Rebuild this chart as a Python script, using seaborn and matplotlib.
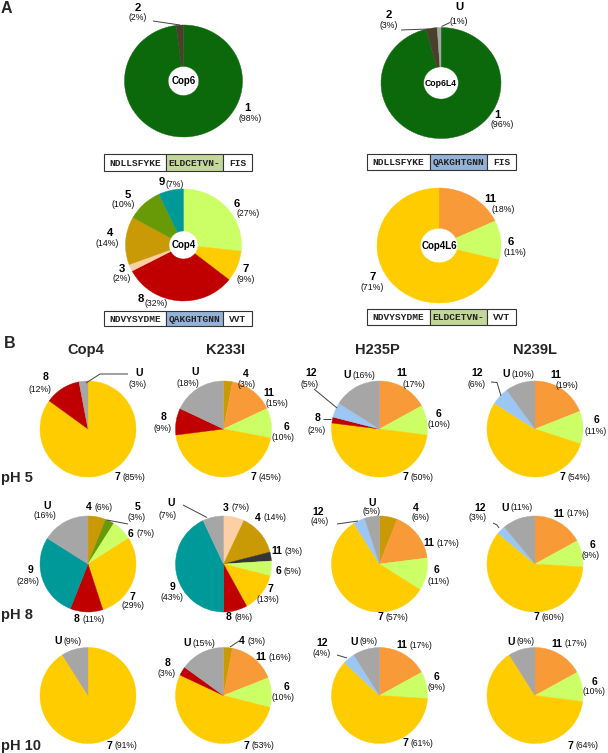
import matplotlib
matplotlib.use('Agg')
import matplotlib.pyplot as plt
from matplotlib.patches import Rectangle
import seaborn as sns

sns.set_theme(style='white')
plt.rcParams['font.family'] = ['Liberation Sans', 'DejaVu Sans']

# ---------------- DATA ----------------
# Panel A (clockwise from 12 o'clock)
cop6_cats = ['1', '2']
cop6_vals = [98, 2]
cop6l4_cats = ['1', '2', 'U']
cop6l4_vals = [96, 3, 1]
cop4_cats = ['6', '7', '8', '3', '4', '5', '9']
cop4_vals = [27, 9, 32, 2, 14, 10, 7]
cop4l6_cats = ['11', '6', '7']
cop4l6_vals = [18, 11, 71]

seq_cop6 = ['NDLLSFYKE', 'ELDCETVN-', 'FIS']
seq_cop6l4 = ['NDLLSFYKE', 'QAKGHTGNN', 'FIS']
seq_cop4 = ['NDVYSYDME', 'QAKGHTGNN', 'VVT']
seq_cop4l6 = ['NDVYSYDME', 'ELDCETVN-', 'VVT']

# Panel B
variants = ['Cop4', 'K233I', 'H235P', 'N239L']
ph_labels = ['pH 5', 'pH 8', 'pH 10']

ph5_cop4_cats = ['7', '8', 'U']
ph5_cop4_vals = [85, 12, 3]
ph5_k233i_cats = ['4', '11', '6', '7', '8', 'U']
ph5_k233i_vals = [3, 15, 10, 45, 9, 18]
ph5_h235p_cats = ['11', '6', '7', '8', '12', 'U']
ph5_h235p_vals = [17, 10, 50, 2, 5, 16]
ph5_n239l_cats = ['11', '6', '7', '12', 'U']
ph5_n239l_vals = [19, 11, 54, 6, 10]

ph8_cop4_cats = ['4', '5', '6', '7', '8', '9', 'U']
ph8_cop4_vals = [6, 3, 7, 29, 11, 28, 16]
ph8_k233i_cats = ['3', '4', '11', '6', '7', '8', '9', 'U']
ph8_k233i_vals = [7, 14, 3, 5, 13, 8, 43, 7]
ph8_h235p_cats = ['4', '11', '6', '7', '12', 'U']
ph8_h235p_vals = [6, 17, 11, 57, 4, 5]
ph8_n239l_cats = ['11', '6', '7', '12', 'U']
ph8_n239l_vals = [17, 9, 60, 3, 11]

ph10_cop4_cats = ['7', 'U']
ph10_cop4_vals = [91, 9]
ph10_k233i_cats = ['4', '11', '6', '7', '8', 'U']
ph10_k233i_vals = [3, 16, 10, 53, 3, 15]
ph10_h235p_cats = ['11', '6', '7', '12', 'U']
ph10_h235p_vals = [17, 9, 61, 4, 9]
ph10_n239l_cats = ['11', '6', '7', 'U']
ph10_n239l_vals = [17, 10, 64, 9]

# ---------------- STYLE ----------------
COLORS = {'1': '#0b680b', '2': '#4a3f2c', 'U': '#a6a6a6', '3': '#fcd0a4',
          '4': '#c99a05', '5': '#679a06', '6': '#ccff66', '7': '#ffcc00',
          '8': '#c00000', '9': '#009999', '11': '#f99a38', '12': '#9cc7f5'}
LOOP_COLORS = {'ELDCETVN-': '#c4d79b', 'QAKGHTGNN': '#95b3d7'}
LEADER = '#404040'

W, H = 608, 753
fig = plt.figure(figsize=(W / 100, H / 100), dpi=100)
fig.patch.set_facecolor('white')


def draw_pie(cats, vals, cx, cy, rx, ry, hole=None, center_text=None,
             center_size=7, overrides=None):
    pad = 1.03
    ax = fig.add_axes([(cx - rx * pad) / W, 1 - (cy + ry * pad) / H,
                       2 * rx * pad / W, 2 * ry * pad / H])
    cols = [(overrides or {}).get(c, COLORS[c]) for c in cats]
    wp = dict(linewidth=0.3)
    if hole:
        wp['width'] = 1 - hole
    wedges, _ = ax.pie(vals, colors=cols, startangle=90, counterclock=False,
                       wedgeprops=wp)
    for w, col in zip(wedges, cols):
        w.set_edgecolor(col)
    ax.set_xlim(-pad, pad)
    ax.set_ylim(-pad, pad)
    ax.set_aspect('auto')
    ax.axis('off')
    if center_text:
        ax.text(0, 0, center_text, ha='center', va='center',
                fontsize=center_size, fontweight='bold', color='black')
    return ax


# ---------------- PANEL A PIES ----------------
draw_pie(cop6_cats, cop6_vals, 183.5, 81, 59, 56, hole=0.26, center_text='Cop6', center_size=7)
draw_pie(cop6l4_cats, cop6l4_vals, 441, 83, 60, 55.5, hole=0.29, center_text='Cop6L4', center_size=6.2)
draw_pie(cop4_cats, cop4_vals, 183.5, 245, 58, 56, hole=0.25, center_text='Cop4', center_size=7)
draw_pie(cop4l6_cats, cop4l6_vals, 439, 245.5, 62, 57.5, hole=0.30, center_text='Cop4L6', center_size=7)

# ---------------- PANEL B PIES ----------------
col_x = [88, 223.5, 379.5, 535]
row_y = [429, 564, 695.5]
RB = 48
grid = [
    [(ph5_cop4_cats, ph5_cop4_vals), (ph5_k233i_cats, ph5_k233i_vals),
     (ph5_h235p_cats, ph5_h235p_vals), (ph5_n239l_cats, ph5_n239l_vals)],
    [(ph8_cop4_cats, ph8_cop4_vals), (ph8_k233i_cats, ph8_k233i_vals),
     (ph8_h235p_cats, ph8_h235p_vals), (ph8_n239l_cats, ph8_n239l_vals)],
    [(ph10_cop4_cats, ph10_cop4_vals), (ph10_k233i_cats, ph10_k233i_vals),
     (ph10_h235p_cats, ph10_h235p_vals), (ph10_n239l_cats, ph10_n239l_vals)],
]
for r, row in enumerate(grid):
    for c, (cats, vals) in enumerate(row):
        ov_col = {'11': '#353535'} if (r == 1 and c == 1) else None
        draw_pie(cats, vals, col_x[c], row_y[r], RB, RB, overrides=ov_col)

# ---------------- OVERLAY (text, leaders, sequence boxes) ----------------
ov = fig.add_axes([0, 0, 1, 1], zorder=10)
ov.set_xlim(0, W)
ov.set_ylim(H, 0)
ov.axis('off')
ov.patch.set_alpha(0)


def labels(cats, vals, pos, nsize=7.5, psize=6.2):
    digit_w = nsize * 100 / 72 * 0.556
    for cat, val, (nx, ny, px, py) in zip(cats, vals, pos):
        ov.text(nx, ny, cat, fontsize=nsize, fontweight='bold',
                ha='center', va='center', color='black')
        pct = f'({val}%)'
        if ny == py:  # inline label: percentage follows the number
            x0 = nx + len(cat) * digit_w / 2 + 2.2
            ov.text(x0, py, pct, fontsize=psize, ha='left', va='center',
                    color='#111111')
        else:
            ov.text(px, py, pct, fontsize=psize, ha='center', va='center',
                    color='#111111')


def leader(pts):
    ov.plot([p[0] for p in pts], [p[1] for p in pts], color=LEADER, lw=0.7,
            solid_capstyle='butt')


def seq_box(segs, xs, y0, y1):
    for s, xa, xb in zip(segs, xs[:-1], xs[1:]):
        fc = LOOP_COLORS.get(s, 'white')
        ov.add_patch(Rectangle((xa, y0), xb - xa, y1 - y0, facecolor=fc,
                               edgecolor='#333333', lw=0.8))
        ov.text((xa + xb) / 2, (y0 + y1) / 2 + 0.5, s, family='Liberation Mono',
                fontweight='bold', fontsize=6.8, ha='center', va='center',
                color='#222222')


# panel letters
ov.text(1, 8, 'A', fontsize=11.5, fontweight='bold', ha='left', va='center')
ov.text(4, 343.5, 'B', fontsize=11.5, fontweight='bold', ha='left', va='center')

# panel A labels
A_N, A_P = 8.2, 6.3
labels(cop6_cats, cop6_vals, [(247, 108, 250, 118), (138, 8, 138, 17)], A_N, A_P)
leader([(153, 21), (180, 25)])
labels(cop6l4_cats, cop6l4_vals, [(497, 115, 502, 124), (389, 15, 389, 25),
                                  (459, 7, 459, 21)], A_N, A_P)
leader([(401, 30), (428, 29)])
leader([(450, 22.5), (441.5, 26.5)])
labels(cop4_cats, cop4_vals, [(237, 204, 248, 213), (246, 269, 246, 279),
                              (141, 299, 156, 303), (122, 269, 122, 278),
                              (110, 233, 107, 243), (128, 195, 123, 204),
                              (162, 182, 175, 184)], A_N, A_P)
labels(cop4l6_cats, cop4l6_vals, [(490, 199, 503, 209), (511, 242, 515, 252),
                                  (373, 277, 372, 287)], A_N, A_P)

seq_box(seq_cop6, [104, 166, 223, 252], 154, 171)
seq_box(seq_cop6l4, [367, 430, 487, 516], 154, 170)
seq_box(seq_cop4, [104, 166, 223, 252], 311, 326)
seq_box(seq_cop4l6, [367, 430, 487, 516], 309, 325)

# column titles & row labels
title_x = [86, 226, 377, 535]
for name, x in zip(variants, title_x):
    ov.text(x, 350, name, fontsize=10.5, fontweight='bold', ha='center', va='center')
for name, y in zip(ph_labels, [478, 615, 746]):
    ov.text(1, y, name, fontsize=10.5, fontweight='bold', ha='left', va='center')

# panel B labels
labels(ph5_cop4_cats, ph5_cop4_vals, [(117, 477, 132, 477), (46, 377, 40, 389),
                                      (139, 373, 138, 384)])
leader([(128, 374), (100, 374), (86, 383)])
labels(ph5_k233i_cats, ph5_k233i_vals, [(246, 374, 247, 384), (269, 393, 277, 403),
                                        (287, 427, 283, 437), (253, 477, 270, 477),
                                        (164, 417, 163, 428), (195, 372, 188, 383)])
labels(ph5_h235p_cats, ph5_h235p_vals, [(402, 373, 414, 384), (439, 414, 439, 424),
                                        (405, 477, 419, 477), (318, 418, 317, 430),
                                        (311, 373, 310, 384), (347, 375, 362, 375)])
leader([(314, 389), (337, 408)])
leader([(323, 419), (331, 419)])
labels(ph5_n239l_cats, ph5_n239l_vals, [(556, 375, 567, 385), (597, 420, 596, 431),
                                        (562, 477, 577, 477), (477, 373, 477, 384),
                                        (506, 374, 522, 374)])
leader([(491, 382), (497, 382.5), (501, 396)])

labels(ph8_cop4_cats, ph8_cop4_vals, [(89, 507, 100, 507), (138, 507, 137, 518),
                                      (131, 534, 145, 534), (132, 597, 133, 606),
                                      (77, 619, 95, 619), (30, 570, 28, 581),
                                      (47, 506, 45, 516)])
leader([(128, 524), (107, 520)])
labels(ph8_k233i_cats, ph8_k233i_vals, [(226, 508, 239, 508), (258, 518, 275, 518),
                                        (277, 551, 295, 551), (278, 571, 293, 571),
                                        (270, 589, 268, 599), (229, 617, 243, 617),
                                        (172, 587, 172, 598), (171, 503, 168, 515)])
leader([(183, 505), (207, 517.5)])
labels(ph8_h235p_cats, ph8_h235p_vals, [(416, 508, 421, 518), (429, 543, 446, 543),
                                        (436, 570, 439, 581), (380, 617, 395, 617),
                                        (318, 512, 320, 521), (372, 503, 372, 512)])
leader([(337, 524), (358, 521)])
labels(ph8_n239l_cats, ph8_n239l_vals, [(559, 514, 577, 514), (592, 545, 591, 555),
                                        (536, 617, 551, 617), (480, 508, 478, 518),
                                        (505, 508, 520, 508)])
leader([(493, 523), (497, 525), (499, 528)])

labels(ph10_cop4_cats, ph10_cop4_vals, [(109, 746, 125, 746), (58, 641, 75, 641)])
labels(ph10_k233i_cats, ph10_k233i_vals, [(242, 641, 257, 641), (261, 657, 282, 657),
                                          (287, 687, 283, 698), (246, 746, 263, 746),
                                          (168, 663, 167, 673), (187, 643, 204, 643)])
leader([(239, 641), (230, 647)])
labels(ph10_h235p_cats, ph10_h235p_vals, [(402, 645, 421, 645), (437, 677, 437, 687),
                                          (405, 743, 421, 743), (322, 643, 322, 653),
                                          (354, 642, 367, 642)])
leader([(337, 655), (347, 658)])
labels(ph10_n239l_cats, ph10_n239l_vals, [(557, 644, 576, 644), (595, 682, 594, 692),
                                          (570, 746, 585, 746), (511, 642, 526, 642)])

fig.savefig('out.png', dpi=100, facecolor='white')
